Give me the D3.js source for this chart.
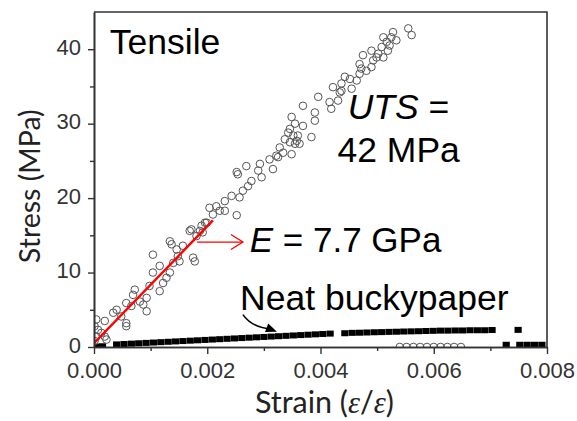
<!DOCTYPE html>
<html><head><meta charset="utf-8">
<script src="https://cdn.jsdelivr.net/npm/d3@7"></script>
<style>body{margin:0;background:#fff}</style>
</head><body><svg id="c" width="577" height="421"></svg>
<script>
const xTicks=[0,0.002,0.004,0.006,0.008];
const xMinor=[0.001,0.003,0.005,0.007];
const yTicks=[0,10,20,30,40];
const yMinor=[5,15,25,35];

// Composite (open circles): [strain, stress MPa]
const composite=[
[0.00134,14.2],[0.00137,13.8],[0.00169,15.6],[0.00181,14.9],[0.00192,15.4],[0.00146,13.1],[0.00157,13.6],[0.00148,12.2],
[0.00104,12.4],[0.00178,11.5],[0.00140,11.3],[0.00151,11.5],[0.00116,10.9],[0.00104,10.0],[0.00134,10.0],[0.00128,9.3],
[0.00122,8.6],[0.00098,8.2],[0.00116,7.5],[0.00072,7.7],[0.00069,7.0],[0.00093,6.6],[0.00081,6.1],[0.00057,5.9],
[0.00066,5.5],[0.00087,5.7],[0.00093,4.8],[0.00040,5.0],[0.00034,4.6],[0.00057,3.2],[0.00057,2.8],[0.00004,3.7],
[0.00019,3.5],[0.00007,2.3],[0.00013,1.9],[0.00019,1.4],[0.00004,1.4],[0.00001,2.8],[0.00001,0.8],[0.00022,1.0],
[0.00048,4.1],[0.00175,12.0],[0.00172,15.8],[0.00187,15.6],[0.00196,16.7],[0.00190,16.3],[0.00204,18.7],[0.00216,18.9],
[0.00222,18.3],[0.00231,19.6],[0.00231,18.3],[0.00252,17.7],[0.00243,20.3],[0.00257,20.1],[0.00263,21.0],[0.00272,21.6],
[0.00278,22.3],[0.00254,23.2],[0.00252,23.5],[0.00269,24.3],[0.00293,24.6],[0.00290,23.7],[0.00296,22.8],[0.00310,25.2],
[0.00316,23.9],[0.00322,25.7],[0.00328,26.8],[0.00334,26.1],[0.00349,25.9],[0.00346,27.5],[0.00358,27.7],[0.00210,17.8],
[0.00199,16.7],[0.00325,25.5],[0.00355,27.3],[0.00363,27.3],[0.00360,28.4],[0.00343,28.8],[0.00346,29.3],[0.00355,30.0],
[0.00349,30.9],[0.00369,29.7],[0.00384,28.2],[0.00369,32.4],[0.00390,31.5],[0.00390,30.4],[0.00396,33.6],[0.00416,32.9],
[0.00419,32.0],[0.00431,33.1],[0.00422,34.9],[0.00434,34.2],[0.00437,35.4],[0.00443,36.3],[0.00455,34.7],[0.00464,35.8],
[0.00469,36.7],[0.00481,37.1],[0.00352,28.4],[0.00337,27.9],[0.00437,34.4],[0.00469,38.0],[0.00475,39.2],[0.00490,37.6],
[0.00493,38.5],[0.00490,39.8],[0.00499,38.9],[0.00502,39.4],[0.00508,40.3],[0.00511,41.6],[0.00517,41.0],[0.00511,38.9],
[0.00519,39.8],[0.00522,40.5],[0.00525,41.6],[0.00528,42.3],[0.00534,41.2],[0.00555,42.8],[0.00561,41.9],[0.00452,36.0],
[0.00472,37.4]
];
// Composite after failure (open circles near zero)
const compositeBroken=[[0.00540,0],[0.00552,0],[0.00564,0],[0.00576,0],[0.00588,0],[0.00600,0],[0.00612,0],[0.00624,0],[0.00636,0],[0.00648,0]];

// Neat buckypaper (filled squares)
const neat=[
[0.00003,0.05],[0.00015,0.1],[0.00040,0.35],[0.00053,0.4],[0.00066,0.45],[0.00079,0.5],[0.00092,0.55],[0.00105,0.6],
[0.00118,0.65],[0.00131,0.7],[0.00144,0.75],[0.00157,0.8],[0.00170,0.85],[0.00183,0.9],[0.00196,0.95],[0.00209,1.0],
[0.00222,1.05],[0.00235,1.1],[0.00248,1.15],[0.00261,1.2],[0.00274,1.25],[0.00287,1.3],[0.00300,1.35],[0.00313,1.4],
[0.00326,1.45],[0.00339,1.5],[0.00352,1.55],[0.00365,1.6],[0.00378,1.65],[0.00391,1.7],[0.00404,1.75],[0.00417,1.8],
[0.00443,1.85],[0.00456,1.9],[0.00469,1.92],[0.00482,1.95],[0.00495,1.98],[0.00508,2.0],[0.00521,2.03],[0.00534,2.05],
[0.00547,2.08],[0.00560,2.1],[0.00573,2.12],[0.00586,2.15],[0.00599,2.17],[0.00612,2.2],[0.00625,2.2],[0.00638,2.22],
[0.00651,2.22],[0.00664,2.25],[0.00677,2.25],[0.00690,2.25],[0.00703,2.28],[0.00749,2.3]
];
const neatBroken=[[0.00728,0.3],[0.00752,0.3],[0.00765,0.3],[0.00778,0.3],[0.00791,0.3]];

// Linear fit (E = 7.7 GPa)
const fitLine=[[0,0.5],[0.0021,17]];

const W=577,H=421,m={l:94,t:12,r:30,b:74};
const svg=d3.select('#c');
const x=d3.scaleLinear().domain([0,0.008]).range([m.l,W-m.r]);
const y=d3.scaleLinear().domain([0,45]).range([H-m.b,m.t]);
const axisColor='#333';

svg.append('defs').append('clipPath').attr('id','clip').append('rect')
  .attr('x',m.l).attr('y',m.t).attr('width',W-m.l-m.r).attr('height',H-m.t-m.b);

const plot=svg.append('g').attr('clip-path','url(#clip)');

// Squares
plot.selectAll('rect.neat').data(neat.concat(neatBroken)).enter().append('rect')
  .attr('x',d=>x(d[0])-3.6).attr('y',d=>y(d[1])-3).attr('width',7.2).attr('height',6).attr('fill','#000');

// Circles
plot.selectAll('circle.c').data(composite.concat(compositeBroken)).enter().append('circle')
  .attr('cx',d=>x(d[0])).attr('cy',d=>y(d[1])).attr('r',3.8)
  .attr('fill','none').attr('stroke','#555').attr('stroke-width',1);

// Fit line
plot.append('path').attr('d',d3.line().x(d=>x(d[0])).y(d=>y(d[1]))(fitLine))
  .attr('stroke','#f00').attr('stroke-width',2.4).attr('fill','none');

// Axes
const fontTick='"Liberation Sans", Arial, sans-serif';
svg.append('g').attr('transform',`translate(0,${H-m.b})`)
  .call(d3.axisBottom(x).tickValues(xTicks).tickFormat(d3.format('.3f')).tickSize(7).tickPadding(8).tickSizeOuter(0));
svg.append('g').attr('transform',`translate(0,${H-m.b})`)
  .call(d3.axisBottom(x).tickValues(xMinor).tickFormat('').tickSize(4).tickSizeOuter(0));
const yg=svg.append('g').attr('transform',`translate(${m.l},0)`)
  .call(d3.axisLeft(y).tickValues(yTicks).tickSize(6).tickPadding(7).tickSizeOuter(0));
yg.selectAll('.tick text').attr('dy','0.24em');
svg.append('g').attr('transform',`translate(${m.l},0)`)
  .call(d3.axisLeft(y).tickValues(yMinor).tickFormat('').tickSize(4).tickSizeOuter(0));
svg.selectAll('.domain').attr('stroke',axisColor).attr('stroke-width',1.6);
svg.selectAll('.tick line').attr('stroke',axisColor).attr('stroke-width',1.4);
svg.selectAll('.tick text').attr('fill','#333').style('font-family',fontTick).style('font-size','22px');

// frame top/right
svg.append('path').attr('d',`M${m.l},${m.t}H${W-m.r}V${H-m.b}`).attr('fill','none').attr('stroke',axisColor).attr('stroke-width',1.6);

// Axis titles
const fontTitle='Lato, "Open Sans", sans-serif';
const xt=svg.append('text').attr('x',x(0.00407)).attr('y',H-m.b+66).attr('text-anchor','middle')
  .style('font-family',fontTitle).style('font-size','30.5px').attr('fill','#222');
xt.append('tspan').text('Strain (');
xt.append('tspan').text('ε').style('font-style','italic').style('font-family','"Liberation Serif", serif');
xt.append('tspan').text('/');
xt.append('tspan').text('ε').style('font-style','italic').style('font-family','"Liberation Serif", serif');
xt.append('tspan').text(')');

svg.append('text').attr('transform',`translate(40,${y(22)+3}) rotate(-90)`).attr('text-anchor','middle')
  .style('font-family',fontTitle).style('font-size','28.5px').attr('fill','#222').text('Stress (MPa)');

// Annotations
const fontLab='"Liberation Sans", Arial, sans-serif';
function lab(px,py,txt,size){return svg.append('text').attr('x',x(px)).attr('y',y(py)).style('font-family',fontLab).style('font-size',size+'px').attr('fill','#000').text(txt);}
lab(0.00028,39.4,'Tensile',35.5);
const u=svg.append('text').attr('x',x(0.00448)).attr('y',y(30.6)).style('font-family',fontLab).style('font-size','35.5px');
u.append('tspan').text('UTS').style('font-style','italic');
u.append('tspan').text(' =');
lab(0.00430,24.8,'42 MPa',35.5);
const e=svg.append('text').attr('x',x(0.00275)).attr('y',y(12.8)).style('font-family',fontLab).style('font-size','35px');
e.append('tspan').text('E').style('font-style','italic');
e.append('tspan').text(' = 7.7 GPa');
lab(0.00258,5.0,'Neat buckypaper',35.5);

// red arrow
const ra=[[0.00182,14.1],[0.00263,14.1]];
svg.append('line').attr('x1',x(ra[0][0])).attr('y1',y(ra[0][1])).attr('x2',x(ra[1][0])).attr('y2',y(ra[1][1]))
  .attr('stroke','#f00').attr('stroke-width',1.3);
svg.append('path').attr('d',`M${x(ra[1][0])-12},${y(ra[1][1])-7.5}L${x(ra[1][0])},${y(ra[1][1])}L${x(ra[1][0])-12},${y(ra[1][1])+7.5}`)
  .attr('fill','none').attr('stroke','#f00').attr('stroke-width',1.3);

// black curved arrow
const ba={s:[0.00263,4.35],c:[0.00279,2.6],e:[0.00314,2.4],tip:[0.00323,2.06]};
svg.append('path').attr('d',`M${x(ba.s[0])},${y(ba.s[1])}Q${x(ba.c[0])},${y(ba.c[1])} ${x(ba.e[0])},${y(ba.e[1])}`)
  .attr('fill','none').attr('stroke','#000').attr('stroke-width',1.6);
{
  const tx=x(ba.tip[0]),ty=y(ba.tip[1]),ex=x(ba.e[0])-4,ey=y(ba.e[1])-1;
  const ang=Math.atan2(ty-ey,tx-ex),L=11,Wd=4.5;
  const bx=tx-L*Math.cos(ang),by=ty-L*Math.sin(ang);
  const nx=-Math.sin(ang)*Wd,ny=Math.cos(ang)*Wd;
  svg.append('path').attr('d',`M${tx},${ty}L${bx+nx},${by+ny}L${bx-nx},${by-ny}Z`).attr('fill','#000');
}
</script></body></html>
